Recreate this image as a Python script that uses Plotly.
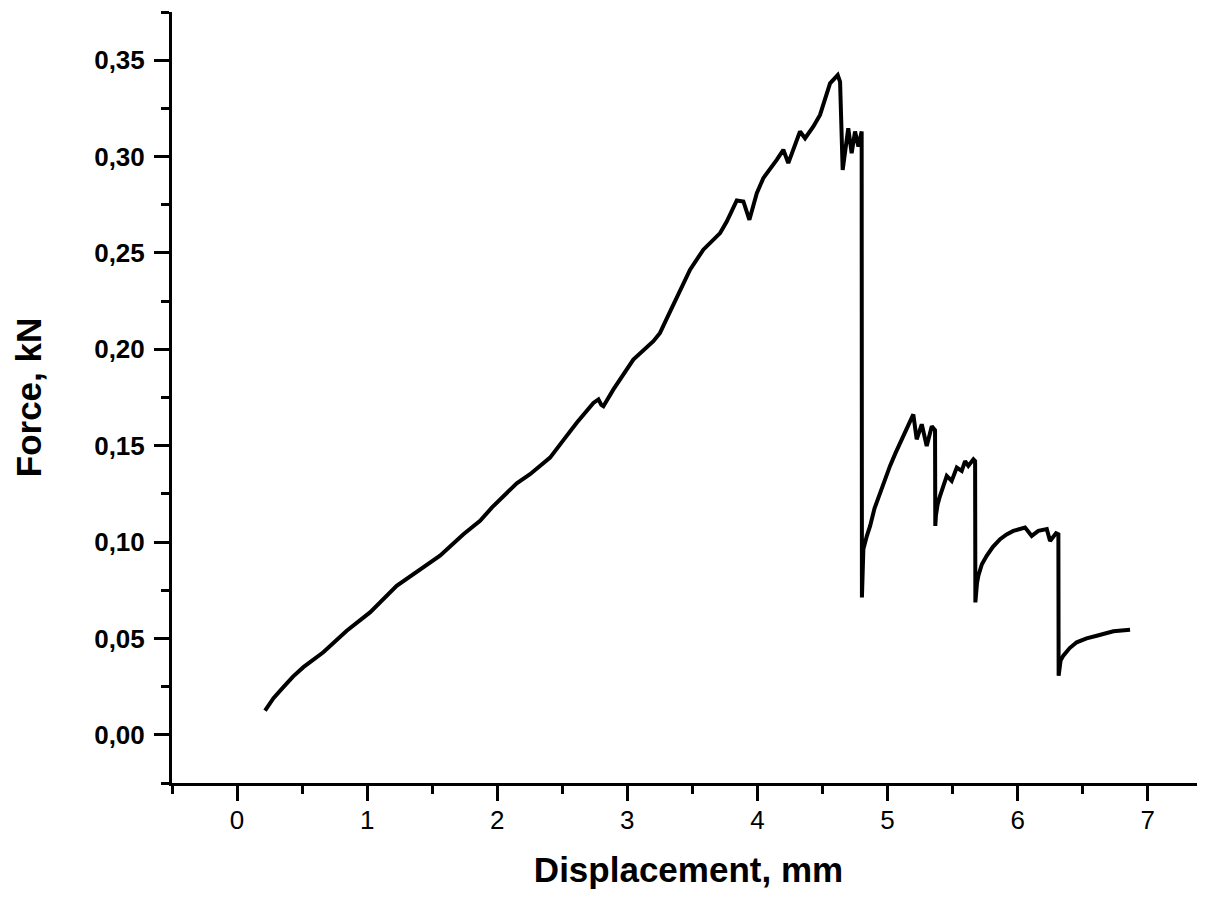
import plotly.graph_objects as go

# Displacement (mm) and force (kN)
displacement = [
    0.215, 0.280, 0.356, 0.430, 0.510, 0.663, 0.843, 1.022, 1.227, 1.432, 1.560, 1.740,
    1.868, 1.960, 2.047, 2.150, 2.252, 2.406, 2.510, 2.611, 2.739, 2.778, 2.800, 2.816, 2.893,
    2.970, 3.046, 3.200, 3.251, 3.310, 3.380, 3.482, 3.584, 3.713, 3.764, 3.841, 3.892,
    3.938, 3.995, 4.045, 4.148, 4.199, 4.237, 4.327, 4.366, 4.430, 4.481,
    4.507, 4.558, 4.617, 4.635, 4.655, 4.698, 4.724, 4.750, 4.776, 4.801,
    4.803, 4.806, 4.810, 4.814, 4.840, 4.866, 4.900, 4.942, 4.980, 5.019, 5.060, 5.096, 5.130,
    5.160, 5.198, 5.224, 5.263,
    5.301, 5.340, 5.365, 5.367, 5.372, 5.385, 5.403, 5.455, 5.493, 5.532, 5.570, 5.596,
    5.621, 5.660, 5.673, 5.675, 5.680, 5.688, 5.698, 5.725, 5.762, 5.810, 5.865, 5.915, 5.967,
    6.057, 6.108, 6.159, 6.224, 6.249, 6.295, 6.313, 6.315, 6.320, 6.330, 6.351, 6.400, 6.454,
    6.530, 6.608, 6.736, 6.864,
]
force = [
    0.0126, 0.0190, 0.0247, 0.0302, 0.0351, 0.0428, 0.0540, 0.0635, 0.0773, 0.0868, 0.0929, 0.1041,
    0.1110, 0.1180, 0.1240, 0.1305, 0.1352, 0.1438, 0.1530, 0.1619, 0.1722, 0.1740, 0.1712, 0.1705, 0.1792,
    0.1870, 0.1947, 0.2042, 0.2085, 0.2170, 0.2270, 0.2413, 0.2517, 0.2603, 0.2663, 0.2772, 0.2767,
    0.2672, 0.2810, 0.2888, 0.2983, 0.3035, 0.2966, 0.3130, 0.3095, 0.3156, 0.3216,
    0.3277, 0.3380, 0.3423, 0.3388, 0.2931, 0.3147, 0.3017, 0.3130, 0.3052, 0.3130,
    0.0713, 0.0830, 0.0900, 0.0963, 0.1030, 0.1084, 0.1175, 0.1257, 0.1330, 0.1395, 0.1460, 0.1516, 0.1565,
    0.1611, 0.1662, 0.1533, 0.1611,
    0.1498, 0.1601, 0.1580, 0.1084, 0.1140, 0.1195, 0.1239, 0.1343, 0.1317, 0.1386, 0.1369, 0.1420,
    0.1395, 0.1429, 0.1420, 0.0687, 0.0750, 0.0790, 0.0825, 0.0885, 0.0929, 0.0975, 0.1015, 0.1040, 0.1058,
    0.1075, 0.1032, 0.1058, 0.1067, 0.1006, 0.1046, 0.1040, 0.0307, 0.0355, 0.0385, 0.0411, 0.0450, 0.0480,
    0.0500, 0.0514, 0.0537, 0.0545,
]

x_tick_vals = [0, 1, 2, 3, 4, 5, 6, 7]
x_tick_text = ["0", "1", "2", "3", "4", "5", "6", "7"]
y_tick_vals = [0.00, 0.05, 0.10, 0.15, 0.20, 0.25, 0.30, 0.35]
y_tick_text = ["0,00", "0,05", "0,10", "0,15", "0,20", "0,25", "0,30", "0,35"]

FONT = "Arial, Liberation Sans, sans-serif"

fig = go.Figure()
fig.add_trace(go.Scatter(
    x=displacement, y=force, mode="lines",
    line=dict(color="black", width=4),
    showlegend=False, hoverinfo="skip",
))

# page body has an 8px margin, so the figure is placed at (8, 8)
fig.update_layout(
    width=1197, height=881,
    paper_bgcolor="white", plot_bgcolor="white",
    margin=dict(l=164, r=0, t=4, b=106),
    font=dict(family=FONT, color="black"),
)

fig.update_xaxes(
    range=[-0.5, 7.44],
    showgrid=False, zeroline=False,
    showline=True, linecolor="black", linewidth=3,
    ticks="outside", ticklen=15, tickwidth=3, tickcolor="black",
    tickvals=x_tick_vals, ticktext=x_tick_text,
    tickfont=dict(family=FONT, size=26, color="black"),
    ticklabelstandoff=-3,
    minor=dict(tickvals=[-0.5, 0.5, 1.5, 2.5, 3.5, 4.5, 5.5, 6.5],
               ticks="outside", ticklen=8, tickwidth=3, tickcolor="black"),
    title=dict(text="Displacement, mm", standoff=24,
               font=dict(family=FONT, size=35, color="black", weight="bold")),
    automargin=False,
)

fig.update_yaxes(
    range=[-0.025, 0.375],
    showgrid=False, zeroline=False,
    showline=True, linecolor="black", linewidth=3,
    ticks="outside", ticklen=15, tickwidth=3, tickcolor="black",
    tickvals=y_tick_vals, ticktext=y_tick_text,
    tickfont=dict(family=FONT, size=26, color="black", weight="bold"),
    ticklabelstandoff=4,
    minor=dict(tickvals=[-0.025, 0.025, 0.075, 0.125, 0.175, 0.225, 0.275, 0.325, 0.375],
               ticks="outside", ticklen=8, tickwidth=3, tickcolor="black"),
    title=dict(text="Force, kN", standoff=42,
               font=dict(family=FONT, size=35, color="black", weight="bold")),
    automargin=False,
)

fig.write_html("out.html")
